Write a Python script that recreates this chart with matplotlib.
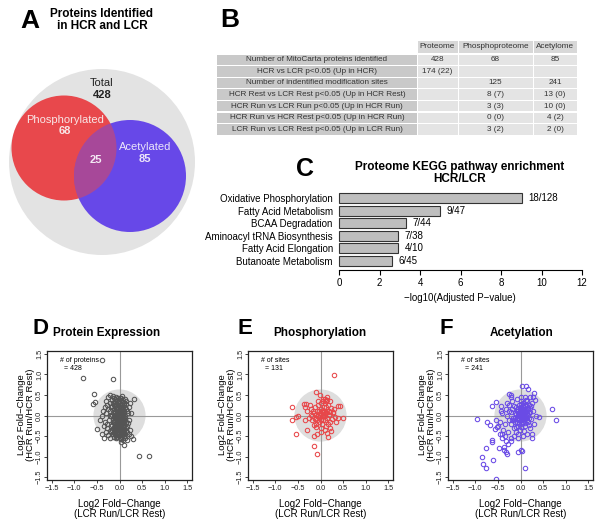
import matplotlib
import numpy as np

matplotlib.use('Agg')
import matplotlib.pyplot as plt
from matplotlib.patches import Circle, Ellipse, Rectangle

plt.rcParams['font.family'] = ['Liberation Sans', 'DejaVu Sans']

# ---- panel A: venn counts
venn_total = 428
venn_phos = 68
venn_acet = 85
venn_both = 25

# ---- panel B: table
table_header = ['Proteome', 'Phosphoproteome', 'Acetylome']
table_rows = ['Number of MitoCarta proteins identified',
              'HCR vs LCR p<0.05 (Up in HCR)',
              'Number of indentified modification sites',
              'HCR Rest vs LCR Rest p<0.05 (Up in HCR Rest)',
              'HCR Run vs LCR Run p<0.05 (Up in HCR Run)',
              'HCR Run vs HCR Rest p<0.05 (Up in HCR Run)',
              'LCR Run vs LCR Rest p<0.05 (Up in LCR Run)']
col_proteome = ['428', '174 (22)', '', '', '', '', '']
col_phospho = ['68', '', '125', '8 (7)', '3 (3)', '0 (0)', '3 (2)']
col_acetyl = ['85', '', '241', '13 (0)', '10 (0)', '4 (2)', '2 (0)']

# ---- panel C: KEGG enrichment
kegg_terms = ['Oxidative Phosphorylation', 'Fatty Acid Metabolism', 'BCAA Degradation',
              'Aminoacyl tRNA Biosynthesis', 'Fatty Acid Elongation', 'Butanoate Metabolism']
kegg_logp = [9.03, 5.0, 3.33, 2.92, 2.92, 2.64]
kegg_counts = ['18/128', '9/47', '7/44', '7/38', '4/10', '6/45']

# ---- panels D-F: log2 fold changes (x = LCR Run/Rest, y = HCR Run/Rest)
prot_pts = [
    (-0.39, 1.35), (-0.80, 0.92), (-0.14, 0.88), (-0.57, 0.52), (-0.59, 0.29), (-0.53, 0.33),
    (0.42, -0.98), (0.66, -0.98), (0.31, 0.39), (0.23, 0.30), (0.30, -0.57), (0.09, -0.71),
    (0.03, -0.64), (-0.43, -0.11), (-0.49, -0.34), (-0.39, -0.46), (-0.34, -0.55),
    (-0.30, 0.35), (-0.25, 0.45), (-0.20, 0.50), (-0.15, 0.48), (-0.33, 0.20), (-0.28, 0.25),
    (-0.36, 0.10), (-0.30, 0.05), (-0.38, -0.02), (-0.32, -0.15), (-0.35, -0.25), (-0.28, -0.30),
    (-0.30, -0.40), (-0.25, -0.48), (-0.20, -0.55), (-0.22, -0.38), (-0.18, -0.25), (-0.24, -0.10),
    (-0.20, 0.10), (-0.22, 0.30), (-0.17, 0.38), (-0.12, 0.42), (-0.16, -0.45), (-0.12, -0.52),
    (-0.26, 0.15), (-0.21, -0.02), (-0.27, -0.20),
    (0.15, 0.35), (0.20, 0.20), (0.18, 0.05), (0.22, -0.10), (0.16, -0.25), (0.24, -0.35),
    (0.20, -0.45), (0.13, -0.55), (0.17, -0.60), (0.26, -0.50), (0.14, 0.15), (0.25, 0.05),
    (0.19, -0.18), (0.12, 0.40), (0.05, 0.48), (0.00, 0.42), (0.08, -0.60),
    (-0.10, 0.35), (-0.05, 0.38), (0.02, 0.30), (0.07, 0.33), (-0.08, 0.25), (-0.02, 0.22),
    (0.04, 0.20), (0.10, 0.25), (-0.12, 0.15), (-0.06, 0.12), (0.00, 0.14), (0.06, 0.10),
    (0.11, 0.12), (-0.10, 0.05), (-0.04, 0.03), (0.02, 0.05), (0.08, 0.02), (-0.13, -0.03),
    (-0.07, -0.05), (-0.01, -0.04), (0.05, -0.06), (0.11, -0.03), (-0.11, -0.12), (-0.05, -0.14),
    (0.01, -0.12), (0.07, -0.15), (0.12, -0.10), (-0.09, -0.20), (-0.03, -0.22), (0.03, -0.20),
    (0.09, -0.23), (-0.12, -0.28), (-0.06, -0.30), (0.00, -0.28), (0.06, -0.31), (0.11, -0.29),
    (-0.08, -0.38), (-0.02, -0.36), (0.04, -0.39), (0.10, -0.37), (-0.10, -0.45), (-0.04, -0.46),
    (0.02, -0.47), (0.08, -0.45), (-0.06, -0.52), (0.00, -0.54), (0.05, -0.52),
    (-0.14, 0.30), (-0.08, 0.18), (-0.03, 0.08), (0.03, 0.00), (0.08, -0.10), (-0.15, -0.17),
    (-0.09, -0.33), (0.04, -0.26), (-0.01, -0.41), (0.06, 0.26), (-0.04, 0.30), (-0.14, 0.08),
    (0.09, 0.06), (-0.07, -0.25), (0.02, -0.33), (-0.12, -0.40), (0.07, -0.42), (-0.02, -0.17),
    (0.04, 0.12), (-0.06, 0.02), (-0.16, 0.22), (-0.18, 0.00), (-0.17, -0.35), (0.13, 0.00),
    (0.14, -0.38), (-0.01, 0.36), (0.00, -0.08), (-0.10, -0.07), (0.06, -0.20), (-0.05, -0.40),
    (-0.09, 0.30), (-0.03, 0.33), (0.03, 0.37), (0.09, 0.30), (-0.11, 0.22), (-0.05, 0.19),
    (0.01, 0.18), (0.07, 0.17), (0.13, 0.20), (-0.09, 0.10), (-0.02, 0.09), (0.04, 0.07),
    (0.10, 0.08), (-0.11, 0.00), (-0.05, -0.01), (0.01, 0.01), (0.07, -0.02), (0.13, -0.06),
    (-0.08, -0.09), (-0.02, -0.08), (0.04, -0.10), (0.10, -0.12), (-0.13, -0.17), (-0.07, -0.18),
    (-0.01, -0.20), (0.05, -0.17), (0.11, -0.19), (-0.10, -0.25), (-0.04, -0.26), (0.02, -0.24),
    (0.08, -0.27), (-0.13, -0.34), (-0.07, -0.33), (-0.01, -0.31), (0.05, -0.35), (0.11, -0.33),
    (-0.09, -0.42), (-0.03, -0.43), (0.03, -0.42), (0.09, -0.41), (-0.07, -0.48), (-0.01, -0.50),
    (0.05, -0.48), (0.10, -0.50), (-0.03, 0.42), (0.04, 0.43), (-0.08, 0.45), (0.08, 0.38),
    (-0.16, 0.02), (-0.15, -0.10), (-0.17, -0.22), (-0.14, -0.45), (0.14, 0.28), (0.15, -0.15),
    (0.15, -0.30), (0.16, 0.10), (-0.04, 0.15), (0.02, 0.25), (-0.06, -0.36), (0.00, -0.22),
    (0.06, -0.08), (-0.12, 0.25), (0.12, -0.45), (-0.10, 0.40), (0.00, 0.08), (0.00, -0.16),
    (0.05, 0.03), (-0.05, 0.07), (0.08, -0.35), (-0.08, -0.55), (0.03, -0.56), (-0.19, 0.20),
    (-0.18, -0.40), (0.17, -0.40),
]

phos_pts = [
    (0.29, 0.98), (-0.11, 0.56), (-0.63, 0.21), (-0.63, -0.10), (-0.55, -0.03), (-0.50, 0.00),
    (-0.55, -0.46), (-0.15, -0.75), (-0.07, -0.93), (-0.37, 0.29), (-0.32, 0.27), (-0.34, 0.20),
    (0.39, 0.23), (0.43, 0.23), (0.49, -0.07), (-0.29, -0.36), (-0.15, -0.49), (-0.08, -0.44),
    (0.17, -0.52), (0.15, -0.42), (0.24, -0.37), (-0.02, 0.50), (0.09, 0.41), (0.15, 0.37),
    (0.05, 0.35), (-0.24, 0.25), (-0.35, -0.11), (0.31, -0.03), (0.38, -0.07), (0.27, 0.09),
    (-0.20, 0.15), (-0.15, 0.05), (-0.12, 0.20), (-0.10, -0.05), (-0.08, 0.10), (-0.05, 0.25),
    (-0.04, -0.15), (-0.02, 0.05), (0.00, 0.15), (0.00, -0.08), (0.02, 0.30), (0.03, -0.20),
    (0.05, 0.08), (0.06, -0.02), (0.08, 0.20), (0.09, -0.12), (0.10, 0.05), (0.12, 0.35),
    (0.12, -0.25), (0.14, 0.12), (0.15, -0.05), (0.17, 0.25), (0.18, 0.02), (0.20, -0.15),
    (0.22, 0.08), (0.24, 0.18), (0.25, -0.08), (-0.18, -0.12), (-0.14, -0.22), (-0.09, -0.28),
    (-0.06, 0.00), (-0.03, 0.12), (0.01, -0.30), (0.04, 0.00), (0.07, 0.12), (0.11, -0.02),
    (0.13, 0.20), (-0.22, 0.02), (-0.16, 0.12), (-0.11, 0.02), (-0.07, -0.10), (-0.01, 0.02),
    (0.03, 0.10), (0.06, -0.10), (0.09, 0.30), (0.16, -0.20), (0.19, 0.12), (-0.25, -0.05),
    (0.28, 0.05), (0.30, 0.15), (0.05, 0.40), (-0.05, 0.35), (0.15, 0.45), (0.20, 0.35),
    (-0.10, -0.20), (0.00, -0.40), (0.10, -0.35), (0.22, -0.30), (-0.30, 0.10), (0.35, -0.15),
    (-0.13, -0.08), (0.02, -0.12), (0.08, 0.00), (-0.04, -0.03), (0.13, 0.06), (-0.19, -0.02),
]

acet_pts = [
    (-0.97, -0.08), (-0.74, -0.15), (-0.68, -0.24), (-0.57, -0.33), (-0.52, -0.28),
    (-0.64, 0.23), (-0.54, 0.33), (-0.44, 0.23), (-0.25, 0.52), (-0.21, 0.46),
    (0.03, 0.73), (0.13, 0.72), (0.16, 0.64), (0.29, 0.54), (0.27, 0.46),
    (0.69, 0.16), (0.78, -0.11), (0.41, -0.03),
    (-0.64, -0.59), (-0.63, -0.65), (-0.77, -0.79), (-0.47, -0.80), (-0.37, -0.76),
    (-0.31, -0.62), (-0.28, -0.70), (-0.37, -0.85), (-0.33, -0.89), (-0.29, -0.93),
    (-0.22, -0.62), (-0.06, -0.89), (0.02, -0.83), (0.04, -0.86),
    (-0.86, -1.02), (-0.83, -1.19), (-0.77, -1.29), (-0.60, -1.09), (-0.54, -1.54),
    (0.11, -1.27), (0.26, -0.54), (-0.40, -0.45), (-0.45, -0.15),
    (-0.30, 0.00), (-0.25, -0.10), (-0.22, 0.08), (-0.20, -0.20), (-0.18, 0.15), (-0.16, -0.05),
    (-0.15, -0.30), (-0.13, 0.05), (-0.12, -0.15), (-0.10, 0.20), (-0.10, -0.40), (-0.08, -0.08),
    (-0.07, 0.10), (-0.06, -0.25), (-0.05, 0.00), (-0.04, 0.25), (-0.03, -0.12), (-0.02, 0.12),
    (-0.01, -0.35), (0.00, 0.05), (0.01, -0.05), (0.02, 0.20), (0.03, -0.20), (0.04, 0.10),
    (0.05, 0.00), (0.06, 0.30), (0.07, -0.10), (0.08, 0.15), (0.09, 0.05), (0.10, -0.25),
    (0.11, 0.22), (0.12, 0.08), (0.13, -0.05), (0.14, 0.35), (0.15, 0.15), (0.16, -0.15),
    (0.18, 0.25), (0.19, 0.05), (0.20, -0.30), (0.22, 0.18), (0.24, -0.08), (0.26, 0.30),
    (0.28, 0.10), (0.30, -0.20), (0.32, 0.38),
    (-0.35, -0.20), (-0.40, 0.05), (-0.38, -0.35), (-0.28, -0.40), (-0.32, 0.15), (-0.25, 0.25),
    (-0.18, 0.35), (-0.08, 0.40), (0.00, 0.45), (0.10, 0.45), (0.20, 0.45), (0.25, -0.45),
    (0.15, -0.45), (0.05, -0.50), (-0.05, -0.55), (-0.15, -0.50), (-0.22, -0.55), (0.35, 0.00),
    (-0.02, 0.02), (0.03, 0.04), (0.07, 0.06), (0.02, -0.02), (0.06, 0.12), (-0.03, 0.07),
    (0.08, -0.03), (0.04, -0.08), (0.10, 0.10), (0.00, 0.15), (-0.06, 0.05), (0.12, 0.00),
    (0.05, 0.20), (-0.08, -0.15), (0.14, 0.05), (0.01, 0.28), (0.09, 0.25), (-0.12, -0.05),
    (0.16, 0.02), (-0.04, -0.18), (-0.45, -0.45), (-0.40, -0.55), (-0.35, -0.50), (-0.50, -0.25),
    (-0.55, -0.10), (-0.42, 0.10), (-0.30, 0.30), (-0.20, 0.50),
    (-0.01, 0.09), (0.04, 0.16), (0.07, 0.02), (0.11, 0.15), (0.09, -0.08), (0.02, -0.10),
    (-0.05, -0.06), (-0.09, 0.03), (-0.02, 0.18), (0.06, 0.24), (0.13, 0.28), (0.17, 0.18),
    (0.19, -0.05), (0.14, -0.12), (0.05, -0.15), (-0.06, 0.16), (-0.14, -0.10), (-0.18, -0.12),
    (-0.10, -0.28), (0.00, -0.27), (0.11, -0.18), (0.21, 0.08), (0.24, 0.22), (-0.15, 0.22),
    (-0.05, -0.45), (0.08, -0.38), (0.18, -0.22), (0.00, 0.35), (0.12, 0.38), (-0.25, 0.10),
]

W, H = 603, 529
fig = plt.figure(figsize=(W / 100, H / 100), dpi=100)

# overlay in pixel coordinates for venn, table and free text
ax0 = fig.add_axes([0, 0, 1, 1])
ax0.set_xlim(0, W)
ax0.set_ylim(H, 0)
ax0.axis('off')

red = '#E8484C'
blue = '#6748E8'

# panel letters
for letter, x, y, fs in [('A', 30, 21, 19), ('B', 230, 20, 19), ('C', 305, 169, 18),
                         ('D', 41, 328, 16), ('E', 245, 328, 16), ('F', 446, 328, 16)]:
    ax0.text(x, y, letter, fontsize=fs, fontweight='bold', ha='center', va='center')

# ---- A: venn
ax0.text(102, 20, 'Proteins Identified\nin HCR and LCR', fontsize=8.5, fontweight='bold',
         ha='center', va='center', linespacing=1.05)
ax0.add_patch(Circle((102, 162), 93, fc='#E3E3E3', ec='none'))
ax0.add_patch(Circle((64, 148), 52.5, fc=red, ec='none'))
blue_c = Circle((130, 176), 56, fc=blue, ec='none')
ax0.add_patch(blue_c)
overlap = Circle((64, 148), 52.5, fc=red, ec='none', alpha=0.5)
ax0.add_patch(overlap)
overlap.set_clip_path(blue_c)
ax0.text(102, 83, 'Total', fontsize=8, ha='center', va='center', color='#222222')
ax0.text(102, 95, str(venn_total), fontsize=8, fontweight='bold', ha='center', va='center', color='#222222')
ax0.text(65, 120, 'Phosphorylated', fontsize=8, ha='center', va='center', color='#F8E6E6')
ax0.text(65, 131, str(venn_phos), fontsize=8, fontweight='bold', ha='center', va='center', color='#F8E6E6')
ax0.text(96, 160, str(venn_both), fontsize=8, fontweight='bold', ha='center', va='center', color='#F4E8F4')
ax0.text(145, 147, 'Acetylated', fontsize=8, ha='center', va='center', color='#ECE6FA')
ax0.text(145, 159, str(venn_acet), fontsize=8, fontweight='bold', ha='center', va='center', color='#ECE6FA')

# ---- B: table
col_edges = [217, 417, 458, 533, 577]
row_top, row_h = 54, 11.6
tfs = 5.9
for j, name in enumerate(table_header):
    x0, x1 = col_edges[j + 1], col_edges[j + 2]
    ax0.add_patch(Rectangle((x0 + 0.5, 41), x1 - x0 - 1, 12.4, fc='#D8D8D8', ec='none'))
    ax0.text((x0 + x1) / 2, 47, name, fontsize=tfs, ha='center', va='center', color='#333333')
data_cols = [col_proteome, col_phospho, col_acetyl]
for i, label in enumerate(table_rows):
    y0 = row_top + i * row_h
    ax0.add_patch(Rectangle((col_edges[0], y0 + 0.6), col_edges[1] - col_edges[0] - 0.5, row_h - 1.2,
                            fc='#C9C9C9', ec='none'))
    ax0.text((col_edges[0] + col_edges[1]) / 2, y0 + row_h / 2, label, fontsize=tfs,
             ha='center', va='center', color='#333333')
    for j, col in enumerate(data_cols):
        x0, x1 = col_edges[j + 1], col_edges[j + 2]
        ax0.add_patch(Rectangle((x0 + 0.5, y0 + 0.6), x1 - x0 - 1, row_h - 1.2, fc='#E4E4E4', ec='none'))
        ax0.text((x0 + x1) / 2, y0 + row_h / 2, col[i], fontsize=tfs, ha='center', va='center',
                 color='#333333')

# ---- C: KEGG bars
ax0.text(460, 173, 'Proteome KEGG pathway enrichment\nHCR/LCR', fontsize=8.5, fontweight='bold',
         ha='center', va='center', linespacing=1.05)
axc = fig.add_axes([339 / W, 1 - 270 / H, 243 / W, 80 / H])
ypos = np.arange(len(kegg_terms))
axc.barh(ypos, kegg_logp, height=0.8, color='#BEBEBE', edgecolor='#333333', linewidth=0.8, clip_on=False)
for i, (v, c) in enumerate(zip(kegg_logp, kegg_counts)):
    axc.annotate(c, (v, i), xytext=(4.5, 0), textcoords='offset points', va='center', fontsize=7)
axc.set_xlim(0, 12)
axc.set_ylim(5.71, -0.63)
axc.set_yticks(ypos)
axc.set_yticklabels(kegg_terms, fontsize=7)
axc.tick_params(axis='y', length=0, pad=4.5)
axc.set_xticks(range(0, 13, 2))
axc.tick_params(axis='x', labelsize=7, length=3.6, width=0.8, pad=2)
for s in ['left', 'top', 'right']:
    axc.spines[s].set_visible(False)
axc.spines['bottom'].set_linewidth(0.8)
axc.patch.set_alpha(0)
ax0.text(460, 298, '\u2212log10(Adjusted P\u2212value)', fontsize=7, ha='center', va='center')


# ---- D-F: scatter panels
def scatter_panel(left, pts, color, title, title_x, note):
    xy = np.array(pts)
    ax = fig.add_axes([left / W, 49 / H, 145 / W, 129 / H])
    ax.add_patch(Ellipse((0, 0), 1.15, 1.27, fc='#DEDEDE', ec='none', zorder=0))
    ax.axhline(0, color='#999999', lw=0.8, zorder=1)
    ax.axvline(0, color='#999999', lw=0.8, zorder=1)
    ax.plot(xy[:, 0], xy[:, 1], 'o', mfc='none', mec=color, ms=3.2, mew=0.75, zorder=2)
    ax.set_xlim(-1.6, 1.6)
    ax.set_ylim(-1.57, 1.57)
    ticks = [-1.5, -1.0, -0.5, 0.0, 0.5, 1.0, 1.5]
    labels = [f'{t:.1f}'.replace('-', '\u2212') for t in ticks]
    ax.set_xticks(ticks)
    ax.set_xticklabels(labels)
    ax.set_yticks(ticks)
    ax.set_yticklabels(labels, rotation=90, va='center')
    ax.tick_params(labelsize=5.3, length=2.2, width=0.6, pad=1.2, colors='#222222')
    ax.tick_params(axis='y', pad=0.6)
    for s in ax.spines.values():
        s.set_linewidth(0.9)
        s.set_color('#222222')
    ax.text(0.09, 0.95, note, transform=ax.transAxes, fontsize=5, ha='left', va='top', linespacing=1.1)
    ax0.text(title_x, 333, title, fontsize=8.5, fontweight='bold', ha='center', va='center')
    cx = left + 72.5
    ax0.text(cx, 509, 'Log2 Fold\u2212Change\n(LCR Run/LCR Rest)', fontsize=7, ha='center',
             va='center', linespacing=1.05)
    ax0.text(left - 21, 415, 'Log2 Fold\u2212Change\n(HCR Run/HCR Rest)', fontsize=6.8, ha='center',
             va='center', rotation=90, linespacing=1.0)
    return ax


scatter_panel(47, prot_pts, '#555555', 'Protein Expression', 107, '# of proteins\n  = 428')
scatter_panel(248, phos_pts, '#E8474A', 'Phosphorylation', 320, '# of sites\n  = 131')
scatter_panel(448, acet_pts, '#6A4BE6', 'Acetylation', 522, '# of sites\n  = 241')

fig.savefig('out.png', dpi=100)
